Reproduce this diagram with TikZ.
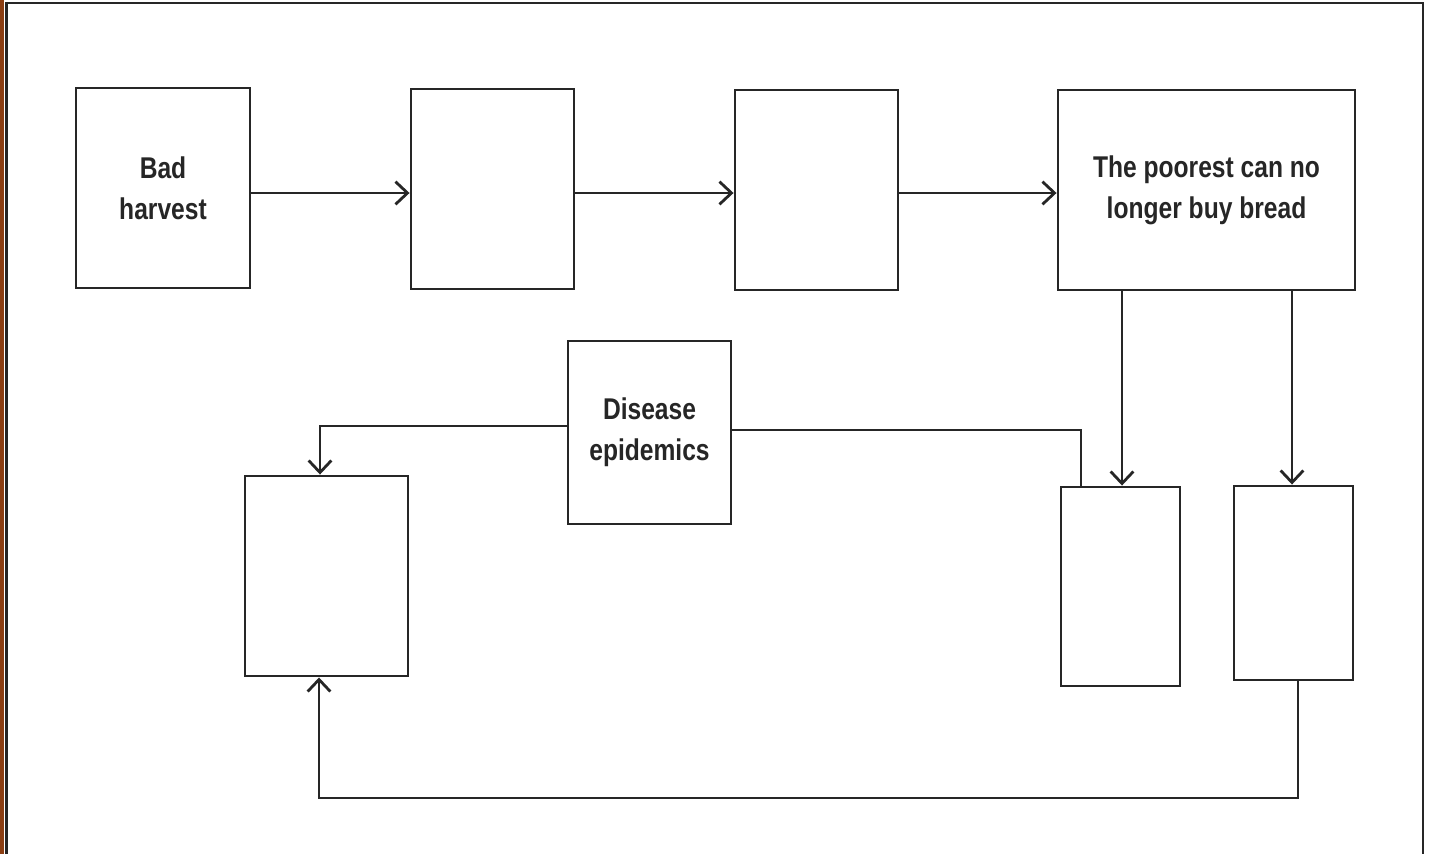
\documentclass[tikz,border=0pt]{standalone}
\usepackage{fontspec}
\setmainfont{Liberation Sans}[FakeStretch=0.82]
\usetikzlibrary{arrows.meta}
\definecolor{ink}{HTML}{262626}
\definecolor{rust}{HTML}{8B3E12}
\tikzset{
  box/.style={draw=ink, line width=2.2pt, inner sep=0pt, fill=white,
    font=\bfseries\fontsize{22.5}{31}\selectfont, text=ink, align=center},
  conn/.style={draw=ink, line width=2.1pt},
  arr/.style={conn, -{Straight Barb[length=9pt, width=17pt, line width=2.1pt]}}
}
\begin{document}
\begin{tikzpicture}[x=0.75pt, y=-0.75pt]
\useasboundingbox (0,0) rectangle (1430,854);
\fill[white] (0,0) rectangle (1430,854);
\fill[rust] (0,0) rectangle (4,854);
\draw[ink, line width=2.2pt] (6.5,854) -- (6.5,3) -- (1423,3) -- (1423,854);
% nodes
\node[box, minimum width=174*0.75pt, minimum height=200*0.75pt] (bad) at (163,188) {Bad\\harvest};
\node[box, minimum width=163*0.75pt, minimum height=200*0.75pt] (b2) at (492.5,189) {};
\node[box, minimum width=163*0.75pt, minimum height=200*0.75pt] (b3) at (816.5,190) {};
\node[box, minimum width=297*0.75pt, minimum height=200*0.75pt] (poor) at (1206.5,190) {The poorest can no\\longer buy bread};
\node[box, minimum width=163*0.75pt, minimum height=183*0.75pt] (dis) at (649.5,432.5) {Disease\\epidemics};
\node[box, minimum width=163*0.75pt, minimum height=200*0.75pt] (lb) at (326.5,576) {};
\node[box, minimum width=119*0.75pt, minimum height=199*0.75pt] (r1) at (1120.5,586.5) {};
\node[box, minimum width=119*0.75pt, minimum height=194*0.75pt] (r2) at (1293.5,583) {};
\coordinate (dl) at (320,426);
\coordinate (dr) at (1081,430);
\coordinate (bl) at (319,798);
\coordinate (br) at (1298,798);
% connectors
\draw[arr] (bad.east |- 0,193) -- (b2.west |- 0,193);
\draw[arr] (b2.east |- 0,193) -- (b3.west |- 0,193);
\draw[arr] (b3.east |- 0,193) -- (poor.west |- 0,193);
\draw[arr] (poor.south -| 1122,0) -- (r1.north -| 1122,0);
\draw[arr] (poor.south -| 1292,0) -- (r2.north -| 1292,0);
\draw[arr] (dis.west |- dl) -- (dl) -- (lb.north -| dl);
\draw[conn] (dis.east |- dr) -- (dr) -- (r1.north -| dr);
\draw[arr] (r2.south -| br) -- (br) -- (bl) -- (lb.south -| bl);
\end{tikzpicture}
\end{document}
